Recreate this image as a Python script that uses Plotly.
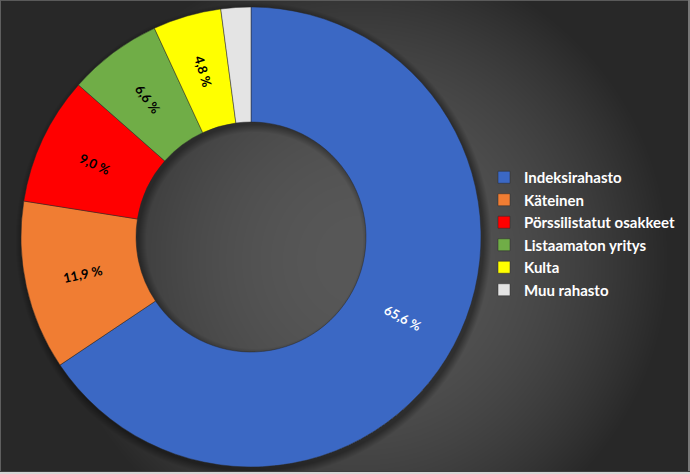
import base64, struct, zlib
import numpy as np
import plotly.graph_objects as go

# ---- data ----
categories = ["Indeksirahasto", "Käteinen", "Pörssilistatut osakkeet",
              "Listaamaton yritys", "Kulta", "Muu rahasto"]
values = [65.6, 11.9, 9.0, 6.6, 4.8, 2.1]
label_texts = ["65,6 %", "11,9 %", "9,0 %", "6,6 %", "4,8 %", ""]

colors = ["#3b68c4", "#f07d33", "#ff0000", "#70ad47", "#ffff00", "#e4e4e4"]
text_colors = ["#ffffff", "#000000", "#000000", "#000000", "#000000", "#000000"]

W, H = 690, 474
HOLE = 0.5
# pie domain in pixels (left, right, top, bottom)
PX0, PX1, PY0, PY1 = 21, 481, 7, 467

# ---- background (radial gradient + soft shadow) as PNG ----
yy, xx = np.mgrid[0:H, 0:W].astype(float)
d = np.hypot(xx - 360, yy - 260)
bg = np.maximum(40.0, 88.0 - 0.0005 * d ** 2)
cxp, cyp = (PX0 + PX1) / 2, (PY0 + PY1) / 2
rout = min(PX1 - PX0, PY1 - PY0) / 2
ds = np.hypot(xx - cxp - 2, yy - cyp - 3)
shadow = np.clip((rout + 8 - ds) / 8.0, 0, 1) * (ds > rout - 4)
bg = bg * (1 - 0.4 * shadow)
dh = np.hypot(xx - cxp - 3, yy - cyp - 3)
dc = np.hypot(xx - cxp, yy - cyp)
rin = rout * HOLE
inner = (dc < rin + 1) & (dh > rin - 7)
bg = np.where(inner, bg * (1 - 0.35 * np.clip((dh - (rin - 7)) / 8.0, 0, 1)), bg)
bg[0, :] = 90
bg[:, 0] = 95
bg[:, W - 2:] = 120
bg[H - 3, :] = 60
bg[H - 2:, :] = 215
img = np.clip(bg, 0, 255).astype(np.uint8)
rgb = np.stack([img, img, img], axis=2)


def png_bytes(a):
    h, w, _ = a.shape
    raw = b"".join(b"\x00" + a[i].tobytes() for i in range(h))

    def chunk(t, data):
        c = struct.pack(">I", len(data)) + t + data
        return c + struct.pack(">I", zlib.crc32(t + data) & 0xFFFFFFFF)

    return (b"\x89PNG\r\n\x1a\n"
            + chunk(b"IHDR", struct.pack(">IIBBBBB", w, h, 8, 2, 0, 0, 0))
            + chunk(b"IDAT", zlib.compress(raw, 9))
            + chunk(b"IEND", b""))


bg_uri = "data:image/png;base64," + base64.b64encode(png_bytes(rgb)).decode()

fig = go.Figure(go.Pie(
    labels=categories,
    values=values,
    textinfo="none",
    hole=HOLE,
    sort=False,
    direction="clockwise",
    rotation=0,
    marker=dict(colors=colors, line=dict(color="rgba(40,40,40,0.6)", width=0.8)),
    domain=dict(x=[PX0 / W, PX1 / W], y=[1 - PY1 / H, 1 - PY0 / H]),
    hoverinfo="label+value",
))

# radial slice labels, positioned from the cumulative values
total = float(sum(values))
rmid = rout * (1 + HOLE) / 2
cum = 0.0
annotations = []
for v, t, c in zip(values, label_texts, text_colors):
    mid = (cum + v / 2) / total * 360.0
    cum += v
    if not t:
        continue
    th = np.radians(mid)
    px = cxp + rmid * np.sin(th)
    py = cyp - rmid * np.cos(th)
    ang = mid - 90.0
    while ang > 90:
        ang -= 180
    while ang <= -90:
        ang += 180
    annotations.append(dict(
        x=px / W, y=1 - py / H, xref="paper", yref="paper",
        text=t, showarrow=False, textangle=ang,
        xanchor="center", yanchor="middle",
        font=dict(family="Lato", size=13, color=c, weight="bold"),
    ))

fig.update_layout(
    width=W, height=H,
    margin=dict(l=0, r=0, t=0, b=0),
    paper_bgcolor="#2a2a2a",
    plot_bgcolor="rgba(0,0,0,0)",
    images=[dict(source=bg_uri, xref="paper", yref="paper", x=0, y=1,
                 sizex=1, sizey=1, sizing="stretch", layer="below")],
    showlegend=True,
    legend=dict(
        x=484 / W, xanchor="left",
        y=1 - 161 / H, yanchor="top",
        font=dict(family="Lato", size=15, color="#ffffff", weight="bold"),
        bgcolor="rgba(0,0,0,0)",
    ),
    annotations=annotations,
)

fig.write_html("out.html", config={"displayModeBar": False},
               post_script="document.body.style.margin='0';")
